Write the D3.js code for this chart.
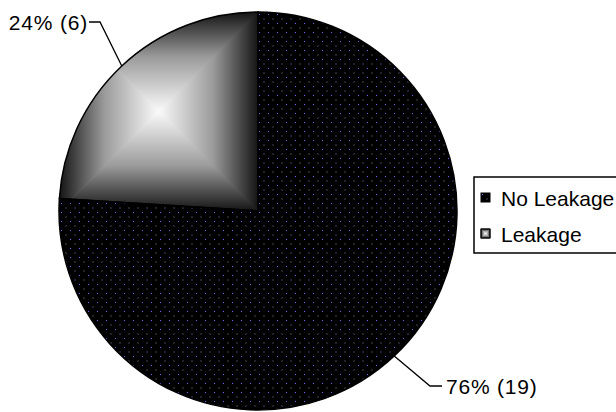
<!DOCTYPE html>
<html>
<head>
<meta charset="utf-8">
<script src="https://cdn.jsdelivr.net/npm/d3@7"></script>
<style>
  body { margin: 0; background: #fff; }
  svg { display: block; font-family: "Liberation Sans", Arial, sans-serif; }
</style>
</head>
<body>
<div class="piechart"></div>
<script>
const categories = ["No Leakage", "Leakage"]
const counts = [19, 6]
const percentLabels = ["76% (19)", "24% (6)"]

const svgWidth = 616
const svgHeight = 412
const cx = 258, cy = 211
const radius = 199

const svg = d3.select(".piechart").append("svg")
                .attr("width", svgWidth)
                .attr("height", svgHeight)

const defs = svg.append("defs")

// dotted dark fill for "No Leakage"
const pat = defs.append("pattern")
    .attr("id", "dots")
    .attr("patternUnits", "userSpaceOnUse")
    .attr("width", 9).attr("height", 9)
pat.append("rect").attr("width", 9).attr("height", 9).attr("fill", "#000")
pat.append("rect").attr("x", 1).attr("y", 1).attr("width", 1).attr("height", 1).attr("fill", "#6a6aff")
pat.append("rect").attr("x", 5.5).attr("y", 5.5).attr("width", 1).attr("height", 1).attr("fill", "#8a8a9a")

// linear gradients for the pyramid (rectangle) fill
const gradDirs = {top: [0, 0, 0, 1], bottom: [0, 1, 0, 0], left: [0, 0, 1, 0], right: [1, 0, 0, 0]}
Object.entries(gradDirs).forEach(([k, v]) => {
    const g = defs.append("linearGradient").attr("id", "g-" + k)
        .attr("x1", v[0]).attr("y1", v[1]).attr("x2", v[2]).attr("y2", v[3])
    g.append("stop").attr("offset", "0%").attr("stop-color", "#141414")
    g.append("stop").attr("offset", "45%").attr("stop-color", "#9a9a9a")
    g.append("stop").attr("offset", "100%").attr("stop-color", "#fafafa")
})

function pyramid(sel, x0, y0, x1, y1) {
    const mx = (x0 + x1) / 2, my = (y0 + y1) / 2
    const tris = [
        ["top", [[x0, y0], [x1, y0], [mx, my]]],
        ["bottom", [[x0, y1], [x1, y1], [mx, my]]],
        ["left", [[x0, y0], [x0, y1], [mx, my]]],
        ["right", [[x1, y0], [x1, y1], [mx, my]]]
    ]
    tris.forEach(([k, pts]) => {
        sel.append("polygon")
            .attr("points", pts.map(p => p.join(",")).join(" "))
            .attr("fill", `url(#g-${k})`)
            .attr("stroke", `url(#g-${k})`)
            .attr("stroke-width", 1)
            .attr("stroke-linejoin", "bevel")
    })
}

const pie = d3.pie().sort(null).value(d => d)
const arcs = pie(counts)
const arc = d3.arc().innerRadius(0).outerRadius(radius)

const g = svg.append("g").attr("transform", `translate(${cx},${cy})`)

// No Leakage
g.append("path")
    .attr("d", arc(arcs[0]))
    .attr("fill", "url(#dots)")

// Leakage: clip path + pyramid gradient on its bounding box
defs.append("clipPath").attr("id", "leakClip")
    .append("path").attr("d", arc(arcs[1]))
const tmp = g.append("path").attr("d", arc(arcs[1]))
const bounds = tmp.node().getBBox()
tmp.remove()
const leakG = g.append("g").attr("clip-path", "url(#leakClip)")
pyramid(leakG, bounds.x, bounds.y, bounds.x + bounds.width, bounds.y + bounds.height)

// outlines
g.selectAll("path.outline").data(arcs).enter().append("path")
    .attr("class", "outline")
    .attr("d", arc)
    .attr("fill", "none")
    .attr("stroke", "#000")
    .attr("stroke-width", 1.5)

// labels with leader lines
const labelArc = d3.arc().innerRadius(radius).outerRadius(radius)
const leader = [
    {elbow: [430 - cx, 386 - cy], end: [442 - cx, 386 - cy], anchor: "start"},
    {elbow: [100 - cx, 22 - cy], end: [89 - cx, 22 - cy], anchor: "end"}
]
arcs.forEach((a, i) => {
    const p = labelArc.centroid(a)
    const L = leader[i]
    g.append("polyline")
        .attr("points", [p, L.elbow, L.end].map(q => q.join(",")).join(" "))
        .attr("fill", "none")
        .attr("stroke", "#000")
        .attr("stroke-width", 1.3)
    g.append("text")
        .attr("x", L.end[0] + (L.anchor === "start" ? 4 : -1))
        .attr("y", L.end[1])
        .attr("dy", "0.36em")
        .attr("text-anchor", L.anchor)
        .attr("font-size", "21px")
        .attr("letter-spacing", "0.8px")
        .attr("fill", "#000")
        .text(percentLabels[i])
})

// legend
const legend = svg.append("g").attr("transform", "translate(474,177)")
legend.append("rect")
    .attr("width", 160).attr("height", 76)
    .attr("fill", "#fff")
    .attr("stroke", "#000")
    .attr("stroke-width", 1.5)
categories.forEach((c, i) => {
    const row = legend.append("g").attr("transform", `translate(7, ${16 + i * 36})`)
    if (i === 0) {
        row.append("rect").attr("width", 9).attr("height", 9)
            .attr("fill", "url(#dots)").attr("stroke", "#000")
    } else {
        pyramid(row, 0, 0, 9, 9)
        row.append("rect").attr("width", 9).attr("height", 9)
            .attr("fill", "none").attr("stroke", "#000")
    }
    row.append("text")
        .attr("x", 20).attr("y", 5)
        .attr("dy", "0.36em")
        .attr("font-size", "21px")
        .text(c)
})
</script>
</body>
</html>
